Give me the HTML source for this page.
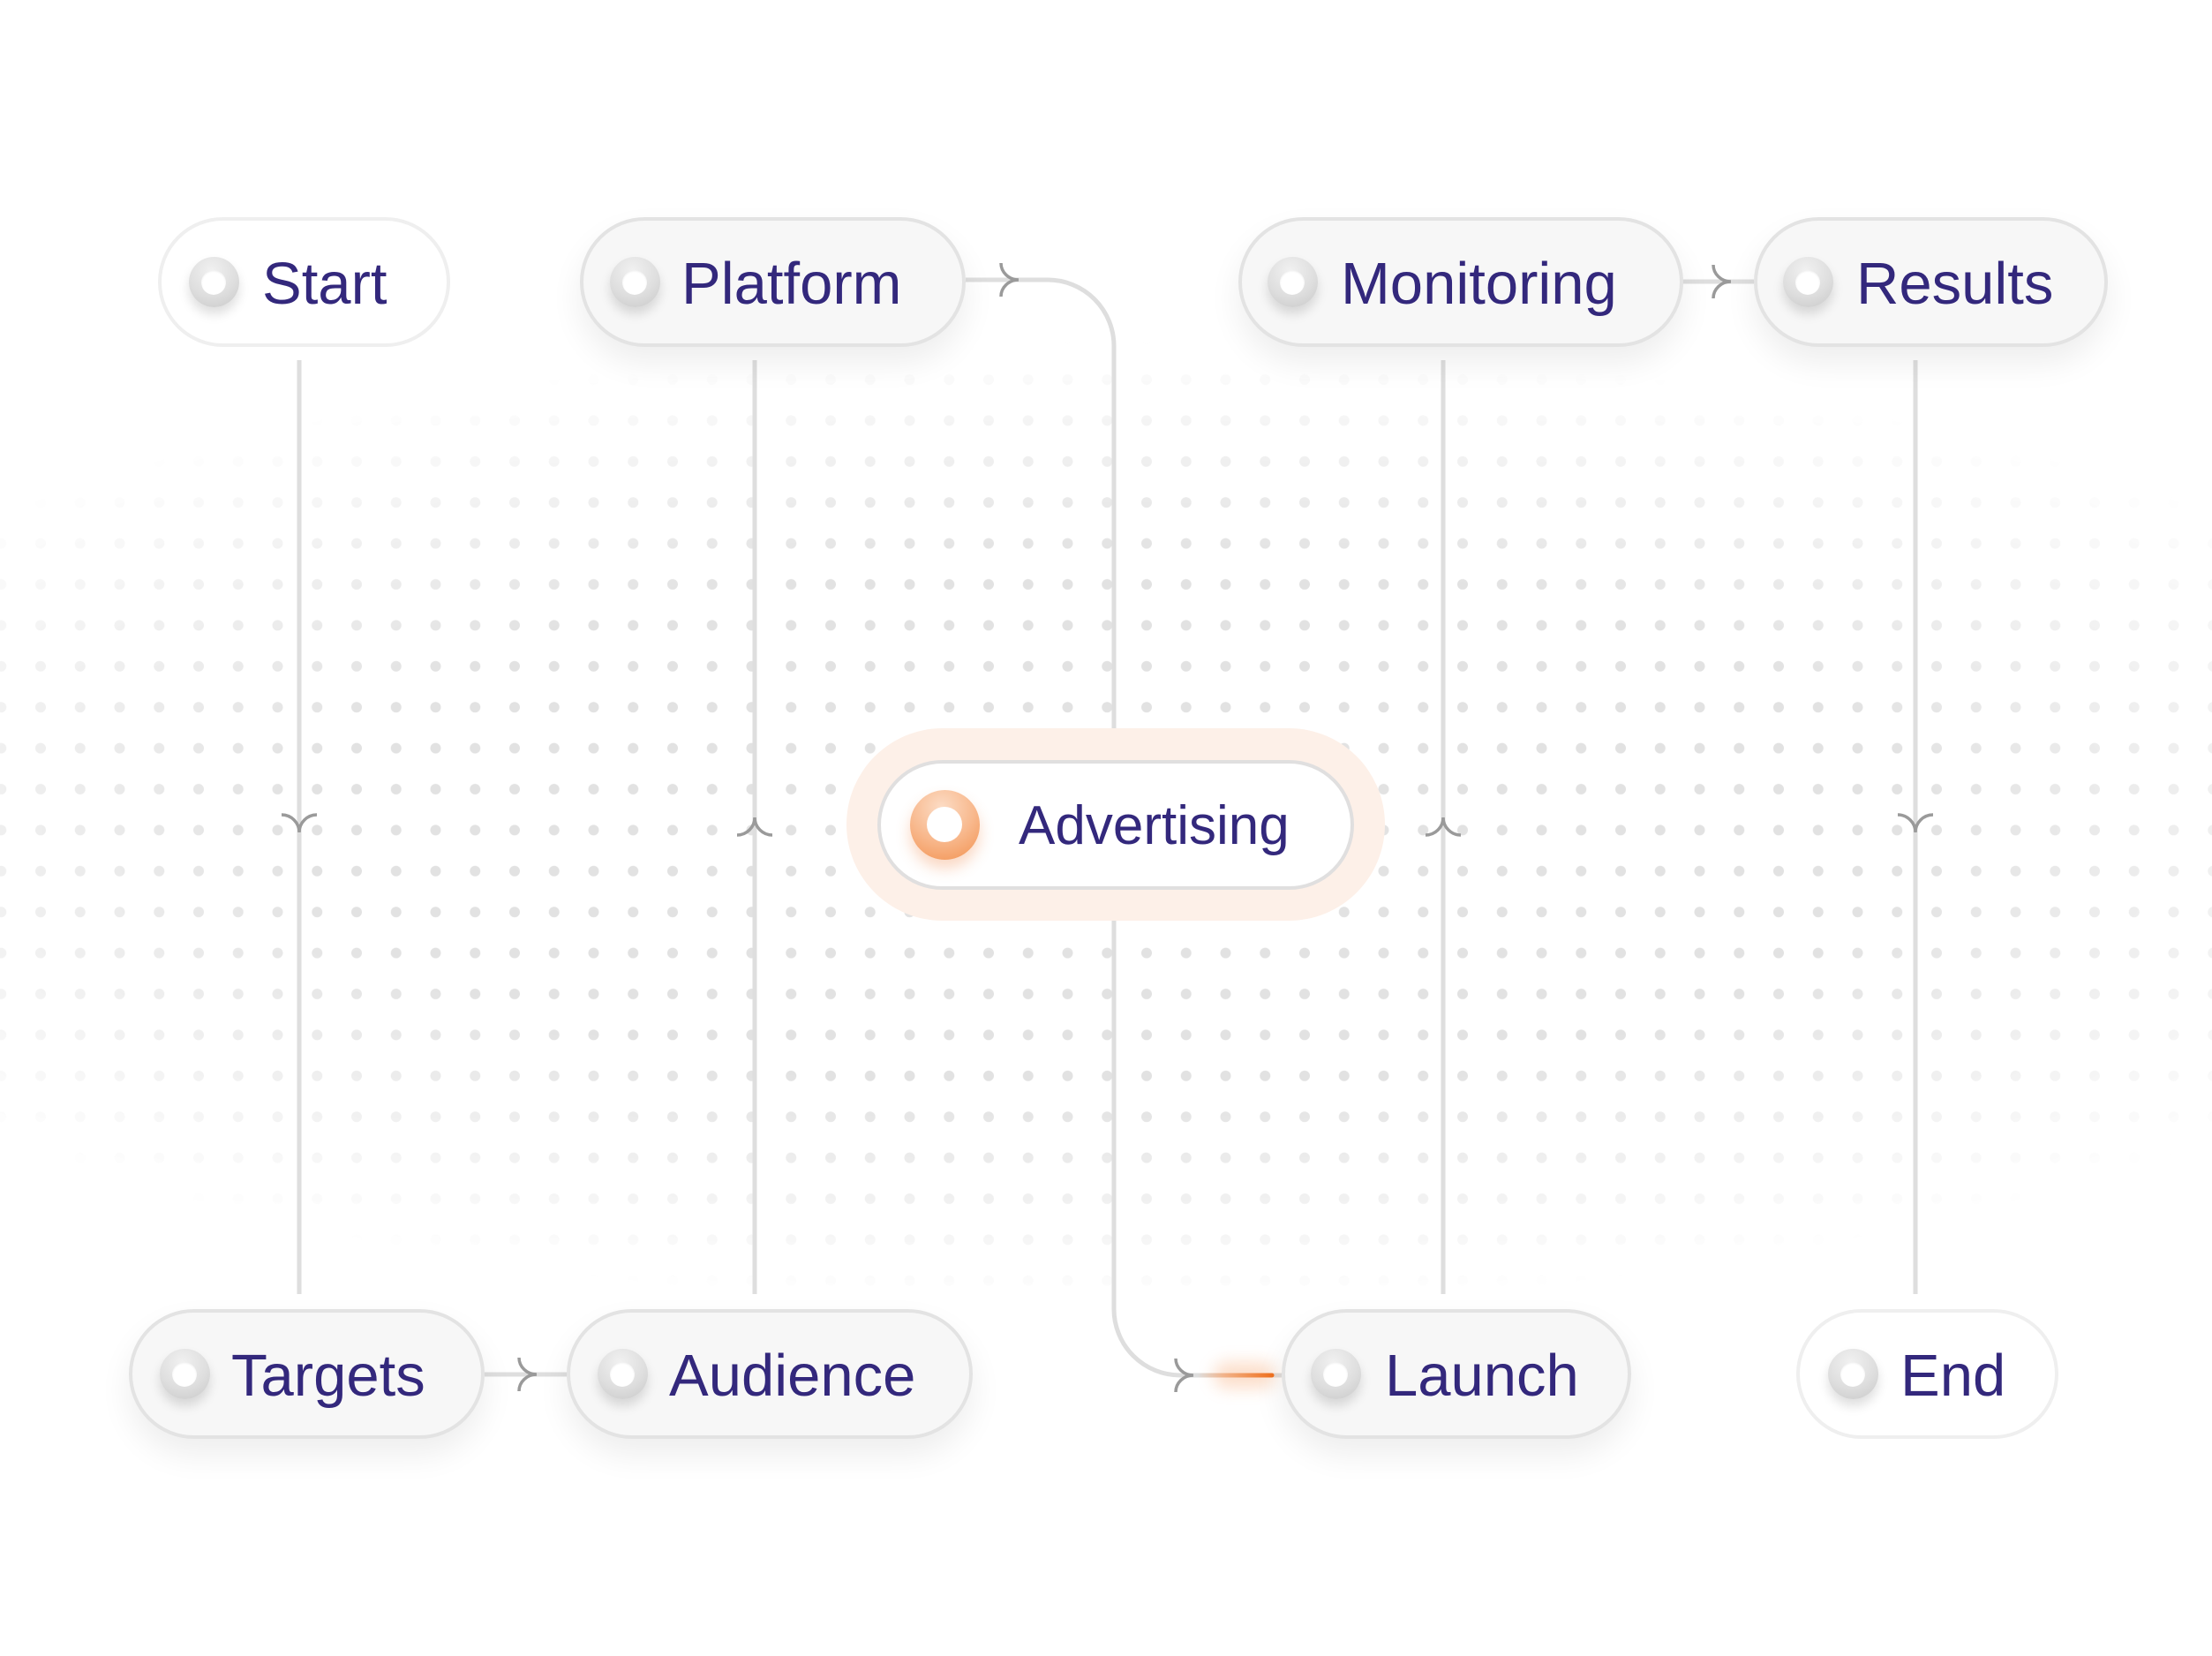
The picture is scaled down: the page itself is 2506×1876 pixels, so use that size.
<!DOCTYPE html>
<html>
<head>
<meta charset="utf-8">
<style>
  html, body { margin:0; padding:0; background:#ffffff; }
  #c { position:relative; width:2506px; height:1876px; overflow:hidden; background:#ffffff;
       font-family:"Liberation Sans", Arial, sans-serif; }
  svg.layer { position:absolute; left:0; top:0; }
  .pill { position:absolute; box-sizing:border-box; border-radius:80px; }
  .pill.std { background:#f7f7f7; border:4px solid #e3e3e3; box-shadow:0 18px 36px rgba(0,0,0,0.07); }
  .pill.faint { background:#ffffff; border:4px solid #efefef; }
  .pill.top { top:246px; height:147px; }
  .pill.bot { top:1483px; height:147px; }
  .lbl { position:absolute; font-size:67px; line-height:75px; color:#33287c; white-space:nowrap; }
  .lbl.top { top:284px; }
  .lbl.bot { top:1521px; }
  .dot { position:absolute; width:57px; height:57px; border-radius:50%;
         background:radial-gradient(circle at 45% 28%, #f1f1f1 0%, #dedede 55%, #c8c8c8 100%);
         box-shadow:0 8px 12px rgba(0,0,0,0.13); }
  .dot::after { content:""; position:absolute; left:14.5px; top:14.5px; width:28px; height:28px;
                border-radius:50%; background:#ffffff; box-shadow:inset 0 1px 2px rgba(0,0,0,0.08); }
  .dot.top { top:291px; }
  .dot.bot { top:1528px; }
</style>
</head>
<body>
<div id="c">

  <!-- dotted background -->
  <svg class="layer" width="2506" height="1876" viewBox="0 0 2506 1876">
    <defs>
      <pattern id="dp" patternUnits="userSpaceOnUse" x="-21.125" y="406.8" width="44.75" height="46.4">
        <circle cx="22.375" cy="23.2" r="6" fill="#e2e2e2"/>
      </pattern>
      <radialGradient id="mg" cx="0.5" cy="0.5" r="0.5">
        <stop offset="0" stop-color="#fff"/>
        <stop offset="0.55" stop-color="#fff"/>
        <stop offset="1" stop-color="#000"/>
      </radialGradient>
      <mask id="dm" maskUnits="userSpaceOnUse" x="0" y="0" width="2506" height="1876">
        <rect x="-400" y="385" width="3306" height="1100" fill="url(#mg)"/>
      </mask>
    </defs>
    <rect x="0" y="380" width="2506" height="1110" fill="url(#dp)" mask="url(#dm)"/>
  </svg>

  <!-- connector lines -->
  <svg class="layer" width="2506" height="1876" viewBox="0 0 2506 1876">
    <defs>
      <linearGradient id="og" gradientUnits="userSpaceOnUse" x1="1357" y1="0" x2="1441" y2="0">
        <stop offset="0" stop-color="#dedede"/>
        <stop offset="0.35" stop-color="#f1b38a"/>
        <stop offset="1" stop-color="#f0711f"/>
      </linearGradient>
      <filter id="blur" x="-50%" y="-300%" width="200%" height="700%">
        <feGaussianBlur stdDeviation="9"/>
      </filter>
    </defs>
    <g stroke="#dedede" stroke-width="5" fill="none">
      <line x1="339" y1="408" x2="339" y2="1466"/>
      <line x1="855" y1="408" x2="855" y2="1466"/>
      <line x1="1635" y1="408" x2="1635" y2="1466"/>
      <line x1="2170" y1="408" x2="2170" y2="1466"/>
      <path d="M1094 317 H1187 A75 75 0 0 1 1262 392 V1483 A75 75 0 0 0 1337 1558 H1452"/>
      <line x1="1907" y1="319" x2="1987" y2="319"/>
      <line x1="549" y1="1557" x2="642" y2="1557"/>
    </g>
    <!-- orange glow segment -->
    <rect x="1375" y="1543" width="70" height="30" rx="15" fill="#f7a36a" opacity="0.35" filter="url(#blur)"/>
    <line x1="1357" y1="1558" x2="1441" y2="1558" stroke="url(#og)" stroke-width="5" stroke-linecap="round"/>
  </svg>

  <!-- Advertising halo + node -->
  <div style="position:absolute;left:959px;top:825px;width:610px;height:218px;border-radius:109px;background:#fdf0e8;"></div>
  <div class="pill" style="left:994px;top:861px;width:540px;height:147px;background:#ffffff;border:4px solid #e0dfdf;"></div>
  <div style="position:absolute;left:1030.5px;top:894.5px;width:79px;height:79px;border-radius:50%;
       background:radial-gradient(circle at 45% 25%, #fcdcc5 0%, #f8b98e 50%, #f2914f 100%);
       box-shadow:0 10px 16px rgba(240,125,60,0.30);"></div>
  <div style="position:absolute;left:1050px;top:914px;width:40px;height:40px;border-radius:50%;background:#ffffff;"></div>
  <div class="lbl" style="left:1154px;top:901px;font-size:62px;line-height:69px;">Advertising</div>

  <!-- top row -->
  <div class="pill faint top" style="left:179px;width:331px;"></div>
  <div class="dot top" style="left:213.5px;"></div>
  <div class="lbl top" style="left:297px;">Start</div>

  <div class="pill std top" style="left:657px;width:437px;"></div>
  <div class="dot top" style="left:690.5px;"></div>
  <div class="lbl top" style="left:772px;">Platform</div>

  <div class="pill std top" style="left:1403px;width:504px;"></div>
  <div class="dot top" style="left:1435.5px;"></div>
  <div class="lbl top" style="left:1519px;">Monitoring</div>

  <div class="pill std top" style="left:1987px;width:401px;"></div>
  <div class="dot top" style="left:2019.5px;"></div>
  <div class="lbl top" style="left:2103px;">Results</div>

  <!-- bottom row -->
  <div class="pill std bot" style="left:146px;width:403px;"></div>
  <div class="dot bot" style="left:180.5px;"></div>
  <div class="lbl bot" style="left:262px;">Targets</div>

  <div class="pill std bot" style="left:642px;width:460px;"></div>
  <div class="dot bot" style="left:676.5px;"></div>
  <div class="lbl bot" style="left:758px;">Audience</div>

  <div class="pill std bot" style="left:1452px;width:396px;"></div>
  <div class="dot bot" style="left:1484.5px;"></div>
  <div class="lbl bot" style="left:1569px;">Launch</div>

  <div class="pill faint bot" style="left:2035px;width:297px;"></div>
  <div class="dot bot" style="left:2070.5px;"></div>
  <div class="lbl bot" style="left:2153px;">End</div>

  <!-- arrowheads -->
  <svg class="layer" width="2506" height="1876" viewBox="0 0 2506 1876">
    <g stroke="#9a9a9a" stroke-width="3.5" fill="none" stroke-linecap="butt">
      <!-- down arrows -->
      <path d="M319 923 A20 20 0 0 1 339 943 A20 20 0 0 1 359 923"/>
      <path d="M2150 923 A20 20 0 0 1 2170 943 A20 20 0 0 1 2190 923"/>
      <!-- up arrows -->
      <path d="M835 946 A20 20 0 0 0 855 926 A20 20 0 0 0 875 946"/>
      <path d="M1615 946 A20 20 0 0 0 1635 926 A20 20 0 0 0 1655 946"/>
      <!-- right arrows -->
      <path d="M1134 298 A20 19 0 0 0 1154 317 A20 19 0 0 0 1134 336"/>
      <path d="M1941 300 A20 19 0 0 0 1961 319 A20 19 0 0 0 1941 338"/>
      <path d="M588 1538 A20 19 0 0 0 608 1557 A20 19 0 0 0 588 1576"/>
      <path d="M1332 1539 A20 19 0 0 0 1352 1558 A20 19 0 0 0 1332 1577"/>
    </g>
  </svg>

</div>
</body>
</html>
